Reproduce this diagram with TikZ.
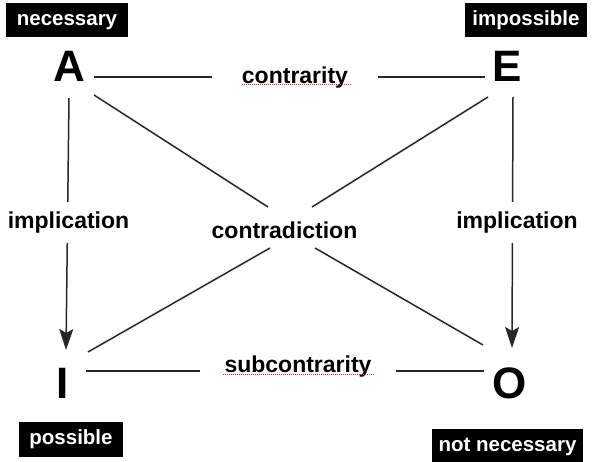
\documentclass[tikz,border=0pt]{standalone}
\usepackage{fontspec}
\setmainfont{Liberation Sans}
\usetikzlibrary{arrows.meta}
\begin{document}
\begin{tikzpicture}[x=1pt,y=-1pt,
  letter/.style={font=\fontsize{44}{44}\selectfont\bfseries, inner sep=0pt,
    text height=31.5pt, text depth=0pt},
  statebox/.style={fill=black, text=white, font=\fontsize{20.5}{20.5}\selectfont\bfseries,
    inner sep=0pt, text height=15pt, text depth=4.5pt, minimum height=34pt},
  relname/.style={fill=white, font=\fontsize{23}{23}\selectfont\bfseries,
    inner ysep=2pt, text height=16.5pt, text depth=5pt},
  edgeline/.style={line width=1.5pt, draw=black!85},
  implies/.style={edgeline, -{Stealth[length=21pt,width=14pt,inset=4pt]}},
  squiggle/.style={draw=red!85, line width=0.8pt, dash pattern=on 1pt off 1pt}
]
\useasboundingbox (0,0) rectangle (592,462);

% corner propositions
\node[letter] (A) at (69,66.25) {A};
\node[letter] (E) at (507.5,66.25) {E};
\node[letter] (I) at (62.5,383.25) {I};
\node[letter] (O) at (509.5,383.25) {O};

% modal tags
\node[statebox, minimum width=122pt] (nec) at (67,20) {necessary};
\node[statebox, minimum width=122pt] (imp) at (526,20) {impossible};
\node[statebox, minimum width=104pt, minimum height=35pt] (pos) at (71,439.5) {possible};
\node[statebox, minimum width=151pt] (nnec) at (507.5,446) {not necessary};

% ends of the diagonals around the centre label
\coordinate (cA) at (268,207);
\coordinate (cE) at (312,207);
\coordinate (cI) at (270,248);
\coordinate (cO) at (315,248);

% contraries and subcontraries
\draw[edgeline] ([shift={(25,10.75)}]A.center) -- ([shift={(-22.5,10.75)}]E.center);
\draw[edgeline] ([shift={(23.5,-12.25)}]I.center) -- ([shift={(-25.5,-12.25)}]O.center);

% implications
\draw[implies] ([shift={(0,31.75)}]A.center) -- ([shift={(3.5,-33.25)}]I.center);
\draw[implies] ([shift={(5.5,30.75)}]E.center) -- ([shift={(2.5,-35.25)}]O.center);

% contradictions
\draw[edgeline] ([shift={(25,28.75)}]A.center) -- (cA);
\draw[edgeline] ([shift={(-19.5,30.75)}]E.center) -- (cE);
\draw[edgeline] ([shift={(25.5,-31.25)}]I.center) -- (cI);
\draw[edgeline] ([shift={(-26.5,-38.25)}]O.center) -- (cO);

% relation names
\node[relname, inner xsep=30pt] (ctr) at (295,77.5) {contrarity};
\node[relname, inner xsep=25pt] (sub) at (298,366.5) {subcontrarity};
\node[relname, minimum height=41pt] (impL) at (68.5,222.5) {implication};
\node[relname, minimum height=41pt] (impR) at (517,222.5) {implication};
\node[relname, fill=none] (cdx) at (284.5,232.5) {contradiction};

% spell-check underlines
\draw[squiggle] (242,84.5) -- (352,84.5);
\draw[squiggle] (223,374) -- (375,374);
\end{tikzpicture}
\end{document}
